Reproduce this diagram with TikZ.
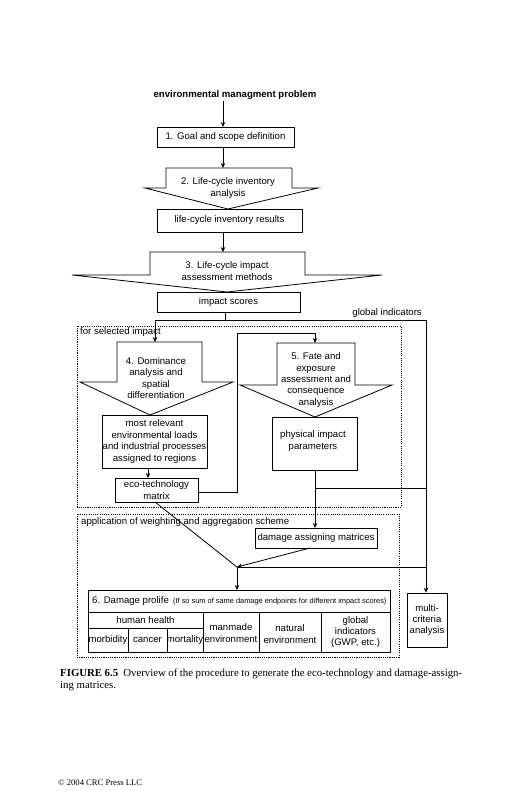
\documentclass[tikz,border=0pt]{standalone}
\usepackage{fontspec}
\setmainfont{Liberation Serif}
\setsansfont{Liberation Sans}
\usetikzlibrary{arrows.meta}
\begin{document}
\begin{tikzpicture}[x=1pt,y=-1pt,
  every node/.style={font=\sffamily\fontsize{9.6}{11.4}\selectfont, inner sep=0pt, align=center},
  box/.style={draw, line width=0.8pt},
  ln/.style={line width=0.8pt},
  arr/.style={line width=0.8pt, -{Stealth[length=5pt,width=4.5pt]}},
  dotbox/.style={line width=0.7pt, dash pattern=on 1.1pt off 1.1pt},
  blockarrow/.style={draw, line width=0.8pt, fill=white, line join=miter},
  captxt/.style={font=\rmfamily\fontsize{10.8}{12}\selectfont}
]
\fill[white] (0,0) rectangle (518,800);
\useasboundingbox (0,0) rectangle (518,800);

% title
\node[font=\sffamily\bfseries\fontsize{9.6}{11}\selectfont] (title) at (235,95) {environmental managment problem};

% boxes
\node[box, minimum width=137pt, minimum height=20pt] (goal) at (225.5,137) {1. Goal and scope definition};
\node[box, minimum width=145pt, minimum height=23pt] (lcir) at (229.5,220.5) {life-cycle inventory results};
\node[box, minimum width=143pt, minimum height=20pt] (score) at (228.5,302) {impact scores};
\node[box, minimum width=105pt, minimum height=53pt] (rel) at (154.5,441.5) {most relevant\\environmental loads\\and industrial processes\\assigned to regions};
\node[box, minimum width=83pt, minimum height=24pt] (eco) at (156.5,490) {eco-technology\\matrix};
\node[box, minimum width=85pt, minimum height=53pt] (phys) at (314.5,443.5) {};
\node (physt) at (313,441) {physical impact\\parameters};
\node[box, minimum width=122pt, minimum height=20pt] (dam) at (316,538) {damage assigning matrices};
\node[box, minimum width=40pt, minimum height=54pt] (multi) at (427,620) {multi-\\criteria\\analysis};

% block arrows
\draw[blockarrow] (166,168) -- (292,168) -- (292,188) -- (318,188) -- (228,209) -- (145,188) -- (166,188) -- cycle;
\node (t2) at (228,188) {2. Life-cycle inventory\\analysis};
\draw[blockarrow] (150,252) -- (305,252) -- (305,275) -- (382,275) -- (227,292) -- (72,275) -- (150,275) -- cycle;
\node (t3) at (227,271) {3. Life-cycle impact\\assessment methods};
\draw[blockarrow] (117,342) -- (202,342) -- (202,382) -- (233,382) -- (150,415) -- (80,382) -- (117,382) -- cycle;
\node (t4) at (156,378) {4. Dominance\\analysis and\\spatial\\differentiation};
\draw[blockarrow] (277,343) -- (355,343) -- (355,385) -- (392,385) -- (315,417) -- (240,385) -- (277,385) -- cycle;
\node (t5) at (316,380) {5. Fate and\\exposure\\assessment and\\consequence\\analysis};

% dotted frames
\draw[dotbox] (77,326) rectangle (401,507);
\node[anchor=north west] (lab1) at (80,327) {for selected impact};
\draw[dotbox] (77,514) rectangle (399,657);
\node[anchor=north west] (lab2) at (81,517) {application of weighting and aggregation scheme};

% coordinates
\coordinate (jn) at (237,567);
\coordinate (gl) at (155,320);
\coordinate (gr) at (426,320);
\coordinate (sc) at (225,320);
\node[anchor=south east] (glab) at (422,318) {global indicators};

% connectors
\draw[arr] (223,101) -- (223,127);
\draw[arr] (223,147) -- (223,168);
\draw[arr] (223,232) -- (223,252);
\draw[ln] (score.south -| sc) -- (sc);
\draw[ln] (gl) -- (gr);
\draw[arr] (gl) -- (155,342);
\draw[arr] (gr) -- (gr |- multi.north);
\draw[arr] (148,468) -- (148,478);
\draw[arr] (eco.east |- 0,492) -- (237,492) -- (237,333) -- (315,333) -- (315,343);
\draw[arr] (315,470) -- (315,528);
\draw[ln] (315,488) -- (426,488);
\draw[ln] (155,502) -- (jn);
\draw[arr] (310,548) -- (jn);
\draw[ln] (426,567) -- (jn);
\draw[arr] (jn) -- (237,590);

% damage profile table
\draw[ln] (88,590) rectangle (390,652);
\draw[ln] (88,612) -- (390,612);
\draw[ln] (88,628) -- (203,628);
\draw[ln] (128,628) -- (128,652);
\draw[ln] (167,628) -- (167,652);
\draw[ln] (203,612) -- (203,652);
\draw[ln] (259,612) -- (259,652);
\draw[ln] (321,612) -- (321,652);
\node[anchor=west] (dp) at (92,601) {6. Damage prolife \,{\fontsize{7.4}{8}\selectfont (If so sum of same damage endpoints for different impact scores)}};
\node (hh) at (145.5,620) {human health};
\node (morb) at (108,640) {morbidity};
\node (canc) at (147.5,640) {cancer};
\node (mort) at (185,640) {mortality};
\node (man) at (231,633) {manmade\\environment};
\node (nat) at (290,634) {natural\\environment};
\node (glob) at (355.5,632) {global\\indicators\\(GWP, etc.)};

% caption
\node[anchor=base west, captxt] (cap1) at (60,676) {\makebox[402pt][s]{\textbf{FIGURE 6.5}\ \ Overview of the procedure to generate the eco-technology and damage-assign-}};
\node[anchor=base west, captxt] (cap2) at (60,688) {ing matrices.};
\node[anchor=base west, font=\rmfamily\fontsize{8.6}{9}\selectfont] (copy) at (58,785) {© 2004 CRC Press LLC};
\end{tikzpicture}
\end{document}
